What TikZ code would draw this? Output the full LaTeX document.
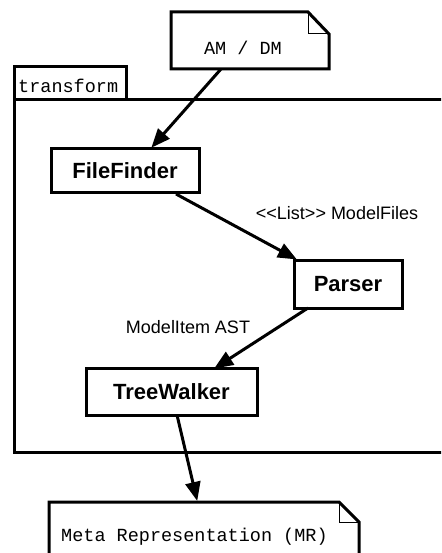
\documentclass[tikz,border=0pt]{standalone}
\usepackage{fontspec}
\setmainfont{Liberation Sans}
\newfontfamily\monof{Liberation Mono}
\usetikzlibrary{arrows.meta}
\begin{document}
\begin{tikzpicture}[x=1pt,y=-1pt,
  outl/.style={line width=3pt},
  thin/.style={line width=1pt},
  comp/.style={draw,line width=3pt,font=\fontsize{22}{25}\selectfont\bfseries,inner sep=0pt},
  lbl/.style={font=\fontsize{18}{21}\selectfont,inner sep=0pt},
  mono/.style={font=\monof\fontsize{18.5}{21}\selectfont,inner sep=0pt},
  flow/.style={line width=3pt,-{Triangle[length=19pt,width=15pt]},shorten >=-1pt}]
\useasboundingbox (0,0) rectangle (441,553);
\clip (0,0) rectangle (441,553);
% package
\draw[outl] (14,100) rectangle (126,67);
\node[mono,anchor=west] (pkgname) at (18,86) {transform};
\draw[outl] (14,100) rectangle (460,452);
% top note
\draw[outl,fill=white] (171,12) -- (308,12) -- (329,34) -- (329,69) -- (171,69) -- cycle;
\draw[thin] (308,12) -- (308,34) -- (329,34);
\node[mono] (am) at (243,48) {AM / DM};
\coordinate (amout) at (221,69);
% bottom note
\draw[outl,fill=white] (49,502) -- (339,502) -- (359,522) -- (359,570) -- (49,570) -- cycle;
\draw[thin] (339,502) -- (339,522) -- (359,522);
\node[mono,anchor=west] (mr) at (61,537) {Meta Representation (MR)};
\coordinate (mrin) at (197,500);
% components
\node[comp,minimum width=148pt,minimum height=44pt] (ff) at (125,171) {FileFinder};
\node[comp,minimum width=108pt,minimum height=48pt] (ps) at (348,284) {Parser};
\node[comp,minimum width=171pt,minimum height=47pt] (tw) at (171.5,391.5) {TreeWalker};
% arrows
\draw[flow] (amout) -- (152,147);
\draw[flow] (176,194) -- (296,259);
\draw[flow] (308,308) -- (215,368);
\draw[flow] (177,415) -- (mrin);
\node[lbl] (l1) at (337,213) {<{}<List>{}> ModelFiles};
\node[lbl] (l2) at (188,327) {ModelItem AST};
\end{tikzpicture}
\end{document}
